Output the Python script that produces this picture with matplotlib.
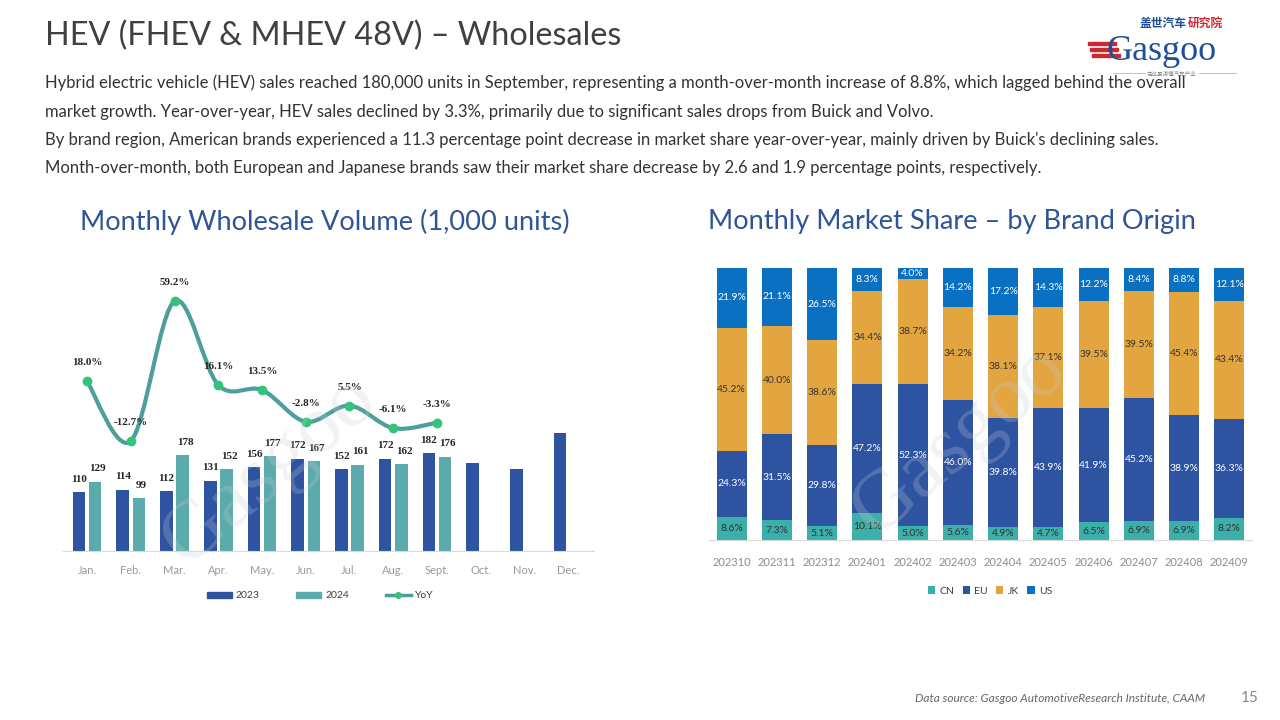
import numpy as np
import matplotlib.pyplot as plt
from matplotlib.path import Path
from matplotlib.patches import PathPatch, Patch
from matplotlib.lines import Line2D

# ---- data ----
months = ['Jan.', 'Feb.', 'Mar.', 'Apr.', 'May.', 'Jun.', 'Jul.', 'Aug.', 'Sept.', 'Oct.', 'Nov.', 'Dec.']
sales_2023 = [110, 114, 112, 131, 156, 172, 152, 172, 182, 163, 153, 220]
sales_2024 = [129, 99, 178, 152, 177, 167, 161, 162, 176]
yoy = [18.0, -12.7, 59.2, 16.1, 13.5, -2.8, 5.5, -6.1, -3.3]
show_2023_label = [True] * 9 + [False] * 3

periods = ['202310', '202311', '202312', '202401', '202402', '202403',
           '202404', '202405', '202406', '202407', '202408', '202409']
share_cn = [8.6, 7.3, 5.1, 10.1, 5.0, 5.6, 4.9, 4.7, 6.5, 6.9, 6.9, 8.2]
share_eu = [24.3, 31.5, 29.8, 47.2, 52.3, 46.0, 39.8, 43.9, 41.9, 45.2, 38.9, 36.3]
share_jk = [45.2, 40.0, 38.6, 34.4, 38.7, 34.2, 38.1, 37.1, 39.5, 39.5, 45.4, 43.4]
share_us = [21.9, 21.1, 26.5, 8.3, 4.0, 14.2, 17.2, 14.3, 12.2, 8.4, 8.8, 12.1]

body = [
    "Hybrid electric vehicle (HEV) sales reached 180,000 units in September, representing a month-over-month increase of 8.8%, which lagged behind the overall",
    "market growth. Year-over-year, HEV sales declined by 3.3%, primarily due to significant sales drops from Buick and Volvo.",
    "By brand region, American brands experienced a 11.3 percentage point decrease in market share year-over-year, mainly driven by Buick's declining sales.",
    "Month-over-month, both European and Japanese brands saw their market share decrease by 2.6 and 1.9 percentage points, respectively.",
]

C_2023 = '#2E54A1'
C_2024 = '#5BAAAC'
C_LINE = '#4E9E9E'
C_MARK = '#35C27A'
C_CN = '#3BAFAA'
C_EU = '#2E54A1'
C_JK = '#E2A540'
C_US = '#0A70C2'
TXT = '#404040'

plt.rcParams['font.family'] = ['Lato', 'DejaVu Sans']

W, H = 1280, 720
fig = plt.figure(figsize=(12.8, 7.2), dpi=100)


def box(x0, y0, x1, y1):
    # pixel box (top-left origin) -> figure fraction rect
    return [x0 / W, 1 - y1 / H, (x1 - x0) / W, (y1 - y0) / H]


# ---- header ----
fig.text(45 / W, 1 - 36 / H, 'HEV (FHEV & MHEV 48V) \u2013 Wholesales', fontsize=23.3,
         color=TXT, va='center', ha='left')
for i, line in enumerate(body):
    fig.text(45 / W, 1 - (83 + i * 28.5) / H, line, fontsize=12, color='#333333',
             va='center', ha='left')

fig.text(325 / W, 1 - 222 / H, 'Monthly Wholesale Volume (1,000 units)', fontsize=19.6,
         color='#2F5597', ha='center', va='center')
fig.text(952 / W, 1 - 222 / H, 'Monthly Market Share \u2013 by Brand Origin', fontsize=19.6,
         color='#2F5597', ha='center', va='center')

# logo
fig.text(1140 / W, 1 - 23 / H, '盖世汽车', fontsize=8.5, color='#1F4E9A', fontweight='bold',
         family=['Noto Sans CJK SC'], ha='left', va='center')
fig.text(1188 / W, 1 - 23 / H, '研究院', fontsize=8.5, color='#D0262D', fontweight='bold',
         family=['Noto Sans CJK SC'], ha='left', va='center')
fig.text(1106 / W, 1 - 51 / H, 'Gasgoo', fontsize=26, color='#1F4E9A',
         family=['Liberation Serif'], ha='left', va='center')
for k in range(3):
    fig.add_artist(plt.Rectangle(((1088 + k * 2) / W, 1 - (45 + k * 6) / H), 28 / W, 3.5 / H,
                                 color='#D0262D', transform=fig.transFigure))
fig.text(1172 / W, 1 - 73 / H, '在这里读懂汽车产业', fontsize=4, color='#888888',
         family=['Noto Sans CJK SC'], ha='center', va='center')
fig.add_artist(Line2D([1113 / W, 1145 / W], [1 - 73 / H] * 2, color='#aaaaaa', lw=0.5))
fig.add_artist(Line2D([1199 / W, 1236 / W], [1 - 73 / H] * 2, color='#aaaaaa', lw=0.5))

# footer
fig.text(915 / W, 1 - 698 / H, 'Data source: Gasgoo AutomotiveResearch Institute, CAAM',
         fontsize=8.6, style='italic', color='#666666', ha='left', va='center')
fig.text(1250 / W, 1 - 698 / H, '15', fontsize=11, color='#888888', ha='center', va='center')

# ---- left chart ----
ax = fig.add_axes(box(63, 260, 594, 551))
x = np.arange(len(months))
off = 0.185
bw = 0.29
ax.bar(x - off, sales_2023, bw, color=C_2023, zorder=2)
ax.bar(x[:len(sales_2024)] + off, sales_2024, bw, color=C_2024, zorder=2)
lab_font = dict(family=['Liberation Serif'], fontweight='bold', fontsize=8, color='#262626')
for i, v in enumerate(sales_2023):
    if show_2023_label[i]:
        ax.annotate(str(v), (x[i] - off, v), xytext=(0, 6), textcoords='offset points',
                    ha='center', va='bottom', **lab_font)
for i, v in enumerate(sales_2024):
    ax.annotate(str(v), (x[i] + off, v), xytext=(2, 6), textcoords='offset points',
                ha='center', va='bottom', **lab_font)
ax.set_xlim(-0.55, 11.59)
ax.set_ylim(0, 542)
ax.set_xticks(x)
ax.set_xticklabels(months, color='#9a9a9a', fontsize=8)
ax.tick_params(axis='x', length=0, pad=10)
ax.set_yticks([])
for s in ['top', 'right', 'left']:
    ax.spines[s].set_visible(False)
ax.spines['bottom'].set_color('#d9d9d9')
ax.patch.set_alpha(0)

ax2 = ax.twinx()
ax2.set_ylim(-69.2, 80.3)
ax2.set_yticks([])
for s in ax2.spines.values():
    s.set_visible(False)
xl = x[:len(yoy)].astype(float)
yl = np.array(yoy)
verts = [(xl[0], yl[0])]
codes = [Path.MOVETO]
n = len(xl)
for i in range(n - 1):
    p0 = np.array([xl[max(i - 1, 0)], yl[max(i - 1, 0)]])
    p1 = np.array([xl[i], yl[i]])
    p2 = np.array([xl[i + 1], yl[i + 1]])
    p3 = np.array([xl[min(i + 2, n - 1)], yl[min(i + 2, n - 1)]])
    c1 = p1 + (p2 - p0) / 6
    c2 = p2 - (p3 - p1) / 6
    verts += [tuple(c1), tuple(c2), tuple(p2)]
    codes += [Path.CURVE4] * 3
ax2.add_patch(PathPatch(Path(verts, codes), fill=False, edgecolor=C_LINE, lw=3, zorder=3))
ax2.plot(xl, yl, 'o', color=C_MARK, ms=6, zorder=4)
for xi, v in zip(xl, yoy):
    ax2.annotate(f'{v:.1f}%', (xi, v), xytext=(0, 10), textcoords='offset points',
                 ha='center', va='bottom', **lab_font)

handles = [Patch(color=C_2023), Patch(color=C_2024),
           Line2D([0], [0], color=C_LINE, lw=2.5, marker='o', ms=4, mfc=C_MARK, mec=C_MARK)]
fig.legend(handles, ['2023', '2024', 'YoY'], loc='center', bbox_to_anchor=(320 / W, 1 - 596 / H),
           ncol=3, frameon=False, fontsize=7.5, handlelength=2.4, handleheight=0.6,
           columnspacing=3.5, handletextpad=0.4, labelcolor='#404040')

# watermark
for cx, cy in [(270, 470), (960, 440)]:
    fig.text(cx / W, 1 - cy / H, 'Gasgoo', fontsize=60, color='#c8cdd6', alpha=0.25,
             rotation=40, ha='center', va='center', family=['Liberation Serif'], zorder=10)

# ---- right chart ----
bx = fig.add_axes(box(709, 268, 1252, 540))
xr = np.arange(len(periods))
cn = np.array(share_cn)
eu = np.array(share_eu)
jk = np.array(share_jk)
us = np.array(share_us)
bwr = 0.66
layers = [(cn, C_CN, '#333333', 'CN'), (eu, C_EU, 'white', 'EU'),
          (jk, C_JK, '#333333', 'JK'), (us, C_US, 'white', 'US')]
bottom = np.zeros(len(periods))
for vals, col, tcol, name in layers:
    bx.bar(xr, vals, bwr, bottom=bottom, color=col, label=name, zorder=2)
    for i, v in enumerate(vals):
        bx.text(xr[i], bottom[i] + v / 2, f'{v:.1f}%', ha='center', va='center',
                color=tcol, fontsize=7.5, zorder=3)
    bottom = bottom + vals
bx.set_xlim(-0.5, 11.5)
bx.set_ylim(0, 100)
bx.set_xticks(xr)
bx.set_xticklabels(periods, color='#8c8c8c', fontsize=8)
bx.tick_params(axis='x', length=0, pad=12)
bx.set_yticks([])
for s in ['top', 'right', 'left']:
    bx.spines[s].set_visible(False)
bx.spines['bottom'].set_color('#d9d9d9')
fig.legend(*bx.get_legend_handles_labels(), loc='center', bbox_to_anchor=(990 / W, 1 - 591 / H),
           ncol=4, frameon=False, fontsize=7.5, handlelength=0.7, handleheight=0.7,
           columnspacing=0.8, handletextpad=0.4, labelcolor='#404040')

fig.savefig('out.png', dpi=100)
